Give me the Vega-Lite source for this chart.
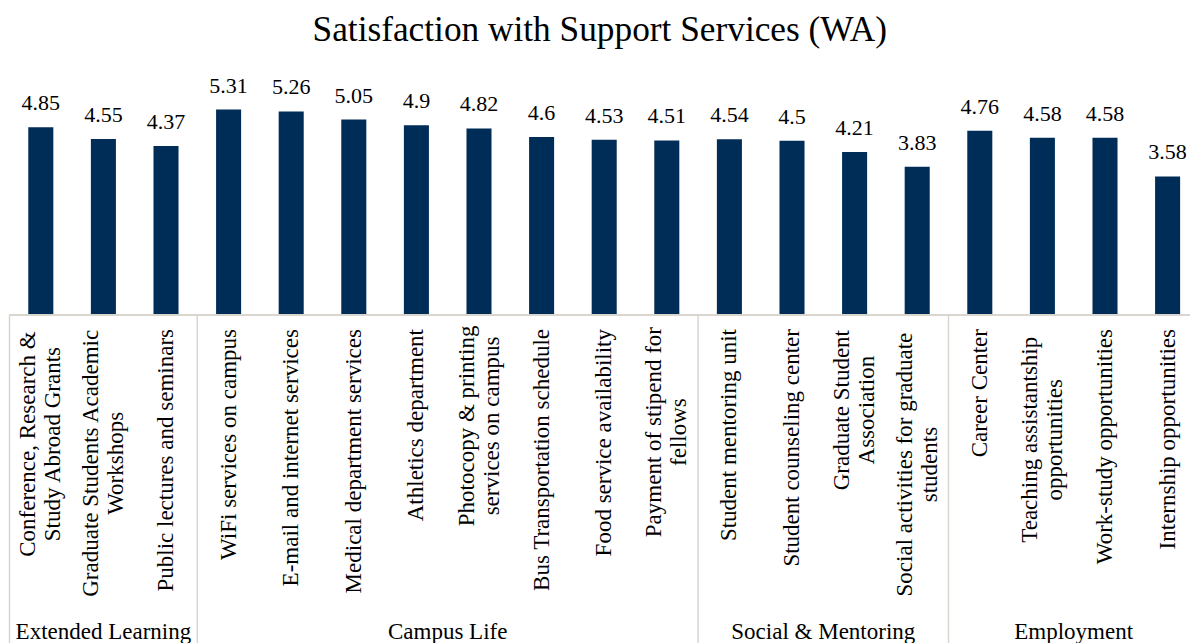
{
  "$schema": "https://vega.github.io/schema/vega-lite/v6.json",
  "autosize": {"type": "none"},
  "padding": {"left": 9.5, "top": 82.8, "right": 0, "bottom": 0},
  "width": 1180.5,
  "height": 560.2,
  "background": "white",
  "title": {
    "text": "Satisfaction with Support Services (WA)",
    "font": "Liberation Serif",
    "fontSize": 35.3,
    "fontWeight": "normal",
    "color": "#000000",
    "anchor": "middle",
    "baseline": "alphabetic",
    "offset": -2
  },
  "config": {
    "view": {"stroke": null},
    "font": "Liberation Serif"
  },
  "datasets": {
    "items": [
      {"group": "Extended Learning", "item": "Conference, Research &\nStudy Abroad Grants", "score": 4.85},
      {"group": "Extended Learning", "item": "Graduate Students Academic\nWorkshops", "score": 4.55},
      {"group": "Extended Learning", "item": "Public lectures and seminars", "score": 4.37},
      {"group": "Campus Life", "item": "WiFi services on campus", "score": 5.31},
      {"group": "Campus Life", "item": "E-mail and internet services", "score": 5.26},
      {"group": "Campus Life", "item": "Medical department services", "score": 5.05},
      {"group": "Campus Life", "item": "Athletics department", "score": 4.9},
      {"group": "Campus Life", "item": "Photocopy & printing\nservices on campus", "score": 4.82},
      {"group": "Campus Life", "item": "Bus Transportation schedule", "score": 4.6},
      {"group": "Campus Life", "item": "Food service availability", "score": 4.53},
      {"group": "Campus Life", "item": "Payment of stipend for\nfellows", "score": 4.51},
      {"group": "Social & Mentoring", "item": "Student mentoring unit", "score": 4.54},
      {"group": "Social & Mentoring", "item": "Student counseling center", "score": 4.5},
      {"group": "Social & Mentoring", "item": "Graduate Student\nAssociation", "score": 4.21},
      {"group": "Social & Mentoring", "item": "Social activities for graduate\nstudents", "score": 3.83},
      {"group": "Employment", "item": "Career Center", "score": 4.76},
      {"group": "Employment", "item": "Teaching assistantship\nopportunities", "score": 4.58},
      {"group": "Employment", "item": "Work-study opportunities", "score": 4.58},
      {"group": "Employment", "item": "Internship opportunities", "score": 3.58}
    ],
    "groups": [
      {"group": "Extended Learning", "start": 0, "mid": 1.5},
      {"group": "Campus Life", "start": 3, "mid": 7},
      {"group": "Social & Mentoring", "start": 11, "mid": 13},
      {"group": "Employment", "start": 15, "mid": 17}
    ]
  },
  "layer": [
    {
      "data": {"name": "items"},
      "encoding": {
        "x": {
          "field": "item",
          "type": "nominal",
          "sort": null,
          "axis": null,
          "scale": {"range": [0, 1189.4], "paddingInner": 0.6, "paddingOuter": 0.3}
        }
      },
      "layer": [
        {
          "mark": {"type": "bar", "color": "#002D57"},
          "encoding": {
            "y": {"field": "score", "type": "quantitative", "axis": null,
                  "scale": {"domain": [-8.475, 6], "nice": false, "zero": false}},
            "y2": {"datum": 0}
          }
        },
        {
          "mark": {"type": "text", "fontSize": 22, "baseline": "alphabetic", "dy": -17, "color": "#000000"},
          "encoding": {
            "y": {"field": "score", "type": "quantitative", "axis": null,
                  "scale": {"domain": [-8.475, 6], "nice": false, "zero": false}},
            "text": {"field": "score", "type": "nominal"}
          }
        },
        {
          "transform": [{"filter": "indexof(datum.item, '\\n') < 0"}],
          "mark": {"type": "text", "fontSize": 23, "angle": 270, "align": "right", "baseline": "middle",
                   "dx": -14, "color": "#000000"},
          "encoding": {
            "y": {"datum": 0, "type": "quantitative",
                  "scale": {"domain": [-8.475, 6], "nice": false, "zero": false}},
            "text": {"field": "item", "type": "nominal"}
          }
        },
        {
          "transform": [{"filter": "indexof(datum.item, '\\n') >= 0"}],
          "mark": {"type": "text", "fontSize": 23, "angle": 270, "align": "center", "baseline": "middle",
                   "dx": {"expr": "-(14 + 0.5 * max(6.2 * length(split(datum.item, '\\n')[0]) + 5.1 * length(replace(split(datum.item, '\\n')[0], /[iltfjr ]/g, '')) + 3.5 * (length(split(datum.item, '\\n')[0]) - length(replace(split(datum.item, '\\n')[0], /[A-Z]/g, ''))), 6.2 * length(split(datum.item, '\\n')[1]) + 5.1 * length(replace(split(datum.item, '\\n')[1], /[iltfjr ]/g, '')) + 3.5 * (length(split(datum.item, '\\n')[1]) - length(replace(split(datum.item, '\\n')[1], /[A-Z]/g, '')))))"},
                   "dy": -12.5, "lineBreak": "\n", "lineHeight": 25, "color": "#000000"},
          "encoding": {
            "y": {"datum": 0, "type": "quantitative",
                  "scale": {"domain": [-8.475, 6], "nice": false, "zero": false}},
            "text": {"field": "item", "type": "nominal"}
          }
        }
      ]
    },
    {
      "data": {"name": "groups"},
      "layer": [
        {
          "mark": {"type": "rule", "color": "#D9D6CF", "strokeWidth": 1.5},
          "encoding": {
            "x": {"field": "start", "type": "quantitative", "axis": null,
                  "scale": {"domain": [0, 19], "range": [0, 1189.4], "nice": false, "zero": false}},
            "y": {"datum": 0, "type": "quantitative",
                  "scale": {"domain": [-8.475, 6], "nice": false, "zero": false}},
            "y2": {"datum": -8.475}
          }
        },
        {
          "mark": {"type": "text", "fontSize": 23, "baseline": "alphabetic", "color": "#000000"},
          "encoding": {
            "x": {"field": "mid", "type": "quantitative", "axis": null,
                  "scale": {"domain": [0, 19], "range": [0, 1189.4], "nice": false, "zero": false}},
            "y": {"datum": -8.37, "type": "quantitative",
                  "scale": {"domain": [-8.475, 6], "nice": false, "zero": false}},
            "text": {"field": "group", "type": "nominal"}
          }
        },
        {
          "mark": {"type": "rule", "color": "#D9D6CF", "strokeWidth": 1.5},
          "encoding": {
            "y": {"datum": 0, "type": "quantitative",
                  "scale": {"domain": [-8.475, 6], "nice": false, "zero": false}}
          }
        }
      ]
    }
  ],
  "resolve": {"scale": {"x": "independent"}}
}
